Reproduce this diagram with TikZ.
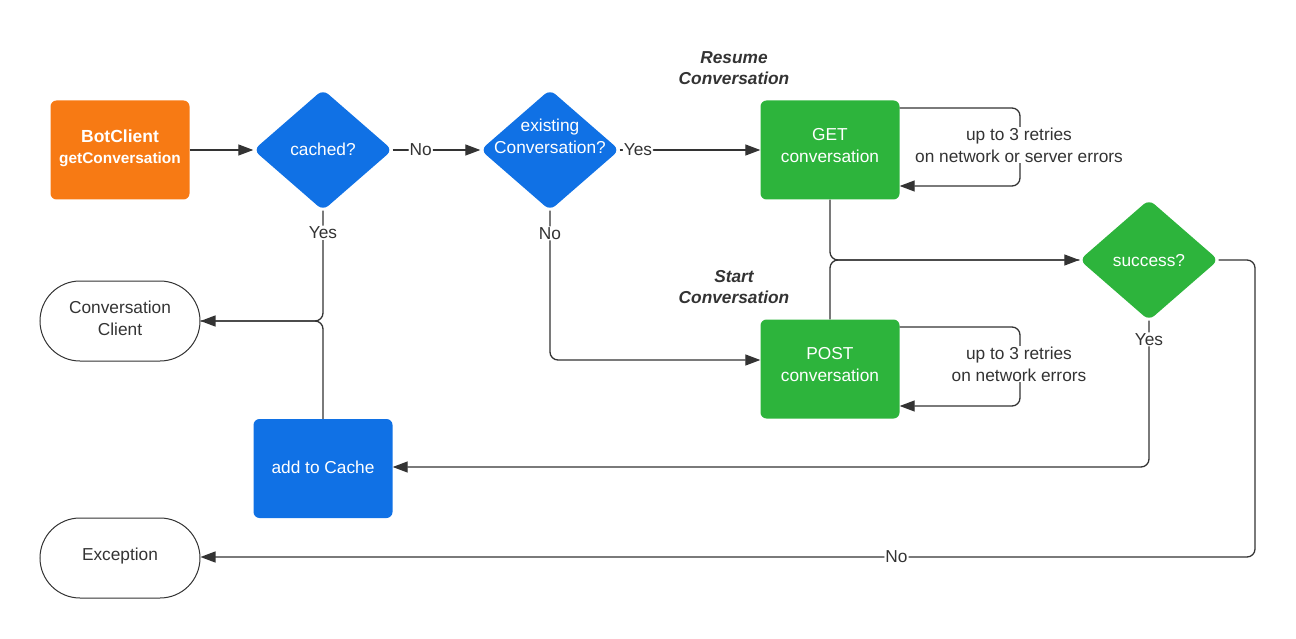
\documentclass[tikz,border=0pt]{standalone}
\usepackage{fontspec}
\setmainfont{Liberation Sans}
\usetikzlibrary{shapes.geometric,shapes.misc,arrows.meta}
\definecolor{orangeC}{RGB}{247,122,20}
\definecolor{blueC}{RGB}{16,113,229}
\definecolor{greenC}{RGB}{45,180,60}
\definecolor{lineC}{RGB}{51,51,51}
\begin{document}
\begin{tikzpicture}[x=1pt,y=-1pt,
  every node/.style={font=\fontsize{17.3}{22}\selectfont, align=center},
  box/.style={rectangle, rounded corners=6pt, minimum width=139pt, minimum height=99pt, inner sep=0pt},
  boxtext/.style={text=white, inner sep=0pt},
  dia/.style={diamond, rounded corners=7pt, minimum width=139pt, minimum height=121pt, inner sep=0pt},
  diatext/.style={text=white, inner sep=0pt},
  term/.style={rounded rectangle, draw=lineC, line width=1pt, minimum width=160pt, minimum height=80pt, inner sep=0pt},
  termtext/.style={text=lineC, inner sep=0pt},
  conn/.style={draw=lineC, line width=1.3pt, rounded corners=8pt},
  arr/.style={conn, -{Triangle[length=15pt,width=11pt]}},
  lbl/.style={fill=white, text=lineC, inner sep=1pt},
  note/.style={text=lineC, font=\fontsize{17.3}{21.5}\selectfont\bfseries\itshape}
]
\useasboundingbox (0,0) rectangle (1296,639);

% nodes
\node[box, fill=orangeC] (bot) at (120,150) {};
\node[boxtext] (bott) at (120,148) {{\fontsize{17.5}{21}\selectfont\bfseries BotClient}\\[-1pt]{\fontsize{15.4}{19}\selectfont\bfseries getConversation}};
\node[dia, fill=blueC] (d1) at (323,150) {};
\node[diatext] (d1t) at (323,149) {cached?};
\node[dia, fill=blueC] (d2) at (550,150) {};
\node[diatext] (d2t) at (550,136) {existing\\Conversation?};
\node[box, fill=greenC] (get) at (830,150) {};
\node[boxtext] (gett) at (830,146) {GET\\conversation};
\node[box, fill=greenC] (post) at (830,369) {};
\node[boxtext] (postt) at (830,365) {POST\\conversation};
\node[dia, fill=greenC] (succ) at (1149,260) {};
\node[diatext] (succt) at (1149,261) {success?};
\node[box, fill=blueC] (cache) at (323,468.5) {};
\node[boxtext] (cachet) at (323,467) {add to Cache};
\node[term] (cc) at (120,321) {};
\node[termtext] (cct) at (120,318) {Conversation\\Client};
\node[term] (exc) at (120,558) {};
\node[termtext] (exct) at (120,556) {Exception};

\node[note] (resume) at (734,68) {Resume\\Conversation};
\node[note] (start) at (734,287) {Start\\Conversation};

% connectors
\draw[arr] (bot) -- (d1);
\draw[arr] (d1) -- node[lbl, pos=0.32] (lno1) {No} (d2);
\draw[arr] (d2) -- node[lbl, pos=0.13] (lyes1) {Yes} (get);
\draw[arr] (d1.south) |- node[lbl, pos=0.1] (lyes2) {Yes} (cc.east);
\draw[conn] (cache.north) |- (cc.east);
\draw[arr] (d2.south) |- node[lbl, pos=0.076] (lno2) {No} ([yshift=9pt]post.west);

% retry loops
\coordinate (g1) at (1020,108);
\coordinate (g2) at (1020,186);
\draw[arr] (get.east |- g1) -- (g1) -- (g2) -- (get.east |- g2);
\node[lbl] (gl) at (1019,145) {up to 3 retries\\on network or server errors};
\coordinate (p1) at (1020,327);
\coordinate (p2) at (1020,406);
\draw[arr] (post.east |- p1) -- (p1) -- (p2) -- (post.east |- p2);
\node[lbl] (pl) at (1019,364) {up to 3 retries\\on network errors};

% to success
\draw[arr] (get.south) |- (succ.west);
\draw[conn] (post.north) |- (succ.west);

% from success
\draw[arr] (succ.south) |- node[lbl, pos=0.064] (lyes3) {Yes} ([yshift=1.5pt]cache.east);
\coordinate (s1) at (1255,260);
\coordinate (s2) at (1255,557);
\draw[arr] (succ.east) -- (s1) -- (s2) -- node[lbl, pos=0.34] (lno3) {No} (exc.east |- s2);
\end{tikzpicture}
\end{document}
